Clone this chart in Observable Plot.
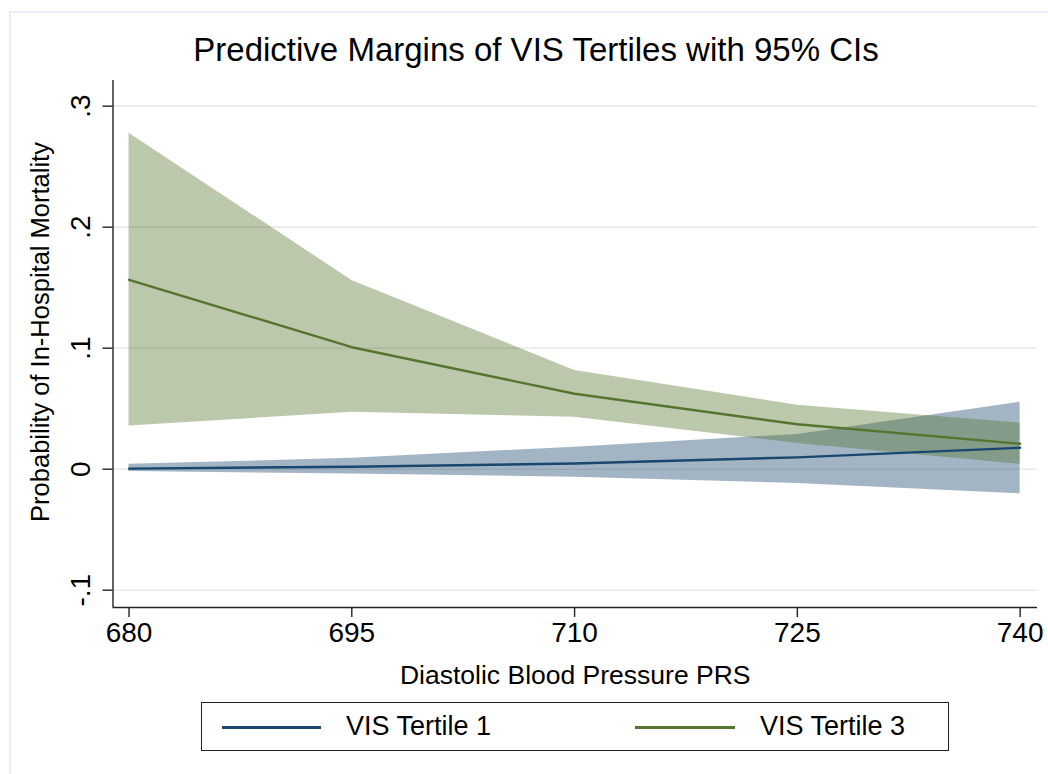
<!DOCTYPE html>
<html>
<head>
<meta charset="utf-8">
<script src="https://cdn.jsdelivr.net/npm/d3@7"></script>
<script src="https://cdn.jsdelivr.net/npm/@observablehq/plot@0.6"></script>
<style>
  html, body { margin: 0; padding: 0; background: #fff; }
  #page { position: relative; width: 1048px; height: 774px; overflow: hidden; font-family: "Liberation Sans", Arial, sans-serif; color: #000; }
  #outer { position: absolute; left: 9px; top: 11px; right: -5px; bottom: -5px; border-top: 2px solid #e8eef1; border-left: 2px solid #e8eef1; }
  #title { position: absolute; left: 0; width: 1072px; top: 31px; text-align: center; font-size: 33px; line-height: 38px; }
  #chart { position: absolute; left: 0; top: 70px; }
  #legend { position: absolute; left: 201px; top: 702px; width: 746px; height: 47px; border: 1.5px solid #222; background: #fff; }
  .sw { position: absolute; height: 2.5px; top: 23px; }
  .lt { position: absolute; top: 8px; font-size: 27px; line-height: 31px; white-space: nowrap; }
</style>
</head>
<body>
<div id="page">
  <div id="outer"></div>
  <div id="title"></div>
  <div id="chart"></div>
  <div id="legend"></div>
</div>
<script>
// ---- data ----
const xValues = [680, 695, 710, 725, 740];
const tertile1 = [0.0005, 0.002, 0.0047, 0.0098, 0.0177];
const tertile1Lo = [-0.002, -0.004, -0.0066, -0.0118, -0.0204];
const tertile1Hi = [0.004, 0.009, 0.0182, 0.0287, 0.0554];
const tertile3 = [0.1565, 0.1008, 0.0623, 0.0371, 0.021];
const tertile3Lo = [0.0356, 0.047, 0.043, 0.0213, 0.004];
const tertile3Hi = [0.2777, 0.156, 0.0816, 0.0529, 0.038];
const seriesNames = ["VIS Tertile 1", "VIS Tertile 3"];
const seriesColors = ["#1a476f", "#55752f"];
const xTicks = [680, 695, 710, 725, 740];
const yTicks = [0.3, 0.2, 0.1, 0, -0.1];
const yTickLabels = [".3", ".2", ".1", "0", "-.1"];
const titleText = "Predictive Margins of VIS Tertiles with 95% CIs";
const xLabel = "Diastolic Blood Pressure PRS";
const yLabel = "Probability of In-Hospital Mortality";

const rows1 = xValues.map((x, i) => ({x, y: tertile1[i], lo: tertile1Lo[i], hi: tertile1Hi[i]}));
const rows3 = xValues.map((x, i) => ({x, y: tertile3[i], lo: tertile3Lo[i], hi: tertile3Hi[i]}));
const yTickRows = yTicks.map((v, i) => ({v, label: yTickLabels[i]}));

const xDomain = [678.92, 741.17];
const yDomain = [-0.1143, 0.3212];

document.getElementById("title").textContent = titleText;

const chart = Plot.plot({
  width: 1048,
  height: 622,
  marginLeft: 112.5,
  marginRight: 11,
  marginTop: 10,
  marginBottom: 85,
  style: {fontFamily: '"Liberation Sans", Arial, sans-serif', fontSize: "28px", color: "#000", background: "transparent"},
  x: {domain: xDomain},
  y: {domain: yDomain},
  marks: [
    Plot.ruleY(yTicks, {stroke: "#eaeaea", strokeWidth: 1.6}),
    Plot.areaY(rows1, {x: "x", y1: "lo", y2: "hi", fill: seriesColors[0], fillOpacity: 0.4}),
    Plot.areaY(rows3, {x: "x", y1: "lo", y2: "hi", fill: seriesColors[1], fillOpacity: 0.4}),
    Plot.lineY(rows1, {x: "x", y: "y", stroke: seriesColors[0], strokeWidth: 2.4}),
    Plot.lineY(rows3, {x: "x", y: "y", stroke: seriesColors[1], strokeWidth: 2.4}),
    Plot.ruleX([xDomain[0]], {stroke: "#222", strokeWidth: 1.4}),
    Plot.ruleY([yDomain[0]], {stroke: "#222", strokeWidth: 1.4}),
    Plot.axisY({ticks: yTicks, tickSize: 10, tickFormat: () => "", stroke: "#222", strokeWidth: 1.4, label: null}),
    Plot.text(yTickRows, {y: "v", text: "label", frameAnchor: "left", dx: -23, rotate: -90, textAnchor: "middle", lineAnchor: "bottom", fontSize: 28}),
    Plot.axisX({ticks: xTicks, tickSize: 10, tickPadding: 5, tickFormat: d => String(d), stroke: "#222", strokeWidth: 1.4, label: null, fontSize: 28}),
    Plot.text([xLabel], {frameAnchor: "bottom", dy: 68, fontSize: 26.5, lineAnchor: "middle"}),
    Plot.text([yLabel], {frameAnchor: "left", dx: -72, dy: -12, rotate: -90, fontSize: 25.5, textAnchor: "middle", lineAnchor: "middle"})
  ]
});
document.getElementById("chart").appendChild(chart);

// legend
const legend = document.getElementById("legend");
const items = [
  {lineLeft: 20, lineWidth: 99, textLeft: 144},
  {lineLeft: 433, lineWidth: 100, textLeft: 558}
];
items.forEach((it, i) => {
  const sw = document.createElement("div");
  sw.className = "sw";
  sw.style.left = it.lineLeft + "px";
  sw.style.width = it.lineWidth + "px";
  sw.style.background = seriesColors[i];
  legend.appendChild(sw);
  const t = document.createElement("div");
  t.className = "lt";
  t.style.left = it.textLeft + "px";
  t.textContent = seriesNames[i];
  legend.appendChild(t);
});
</script>
</body>
</html>
